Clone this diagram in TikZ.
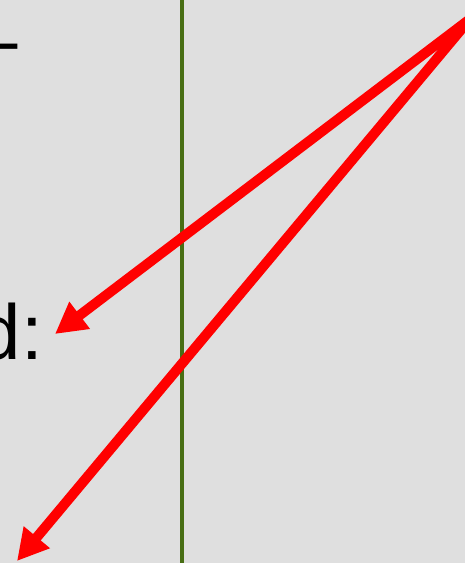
\documentclass[tikz,border=0pt]{standalone}
\usepackage{fontspec}
\setmainfont{Liberation Sans}
\usepackage{xcolor}
\usepackage{tikz}
\usetikzlibrary{arrows.meta, positioning}
\definecolor{bggray}{RGB}{223,223,223}
\definecolor{myred}{RGB}{255,0,0}
\definecolor{myolive}{RGB}{72,110,20}
\tikzset{
  pointer/.style={-{Triangle[length=31pt, width=32pt]}, line width=10pt, color=myred},
  divider/.style={line width=3.5pt, color=myolive},
  label/.style={inner sep=0pt, font=\fontsize{78}{90}\selectfont, text=black}
}
\begin{document}
\begin{tikzpicture}[x=1pt, y=-1pt]
  % Background panel
  \fill[bggray] (0,0) rectangle (465,563);
  \useasboundingbox (0,0) rectangle (465,563);
  \clip (0,0) rectangle (465,563);

  % Text fragments at the left edge
  \node[label, anchor=base east] (dashtxt) at (18,66) {–};
  \node[label, anchor=base east] (dtxt) at (43,359) {d:};

  % Vertical divider
  \coordinate (divtop) at (182,0);
  \coordinate (divbot) at (182,563);
  \draw[divider] (divtop) -- (divbot);

  % Red pointers
  \coordinate (src) at (470,19);
  \coordinate (tipA) at (55,334);
  \coordinate (tipB) at (17,561);
  \draw[pointer] (src) -- (tipA);
  \draw[pointer] (src) -- (tipB);
\end{tikzpicture}
\end{document}
